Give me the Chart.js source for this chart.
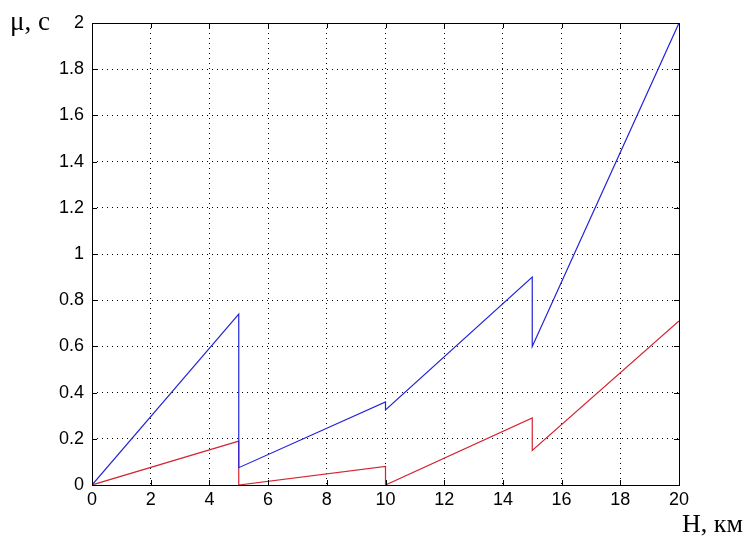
<!DOCTYPE html>
<html>
<head>
<meta charset="utf-8">
<script src="https://cdn.jsdelivr.net/npm/chart.js@4"></script>
<style>
body{margin:0;background:#fff;}
#box{position:relative;width:750px;height:536px;}
.rotulo{position:absolute;font-family:"Liberation Serif","Times New Roman",serif;color:#000;white-space:nowrap;line-height:1;}
</style>
</head>
<body>
<div id="box">
<canvas id="grafico" width="750" height="536"></canvas>
<div class="rotulo" style="left:10px;top:8px;font-size:27px;">μ, с</div>
<div class="rotulo" style="left:682px;top:511px;font-size:26px;">Н, км</div>
</div>
<script>
let alturaAzul=[0,5,5,10,10,15,15,20];
let muAzul=[0,0.74,0.075,0.36,0.325,0.90,0.60,2.0];
let alturaVermelha=[0,5,5,10,10,15,15,20];
let muVermelha=[0,0.19,0,0.08,0,0.29,0.15,0.71];
let ticksX=[0,2,4,6,8,10,12,14,16,18,20];
let ticksY=[0,0.2,0.4,0.6,0.8,1,1.2,1.4,1.6,1.8,2];

function pontos(xs,ys){
return xs.map((x,i)=>({x:x,y:ys[i]}));
}

let moldura={
id:'moldura',
afterDraw(chart){
let c=chart.ctx, a=chart.chartArea;
let sx=chart.scales.x, sy=chart.scales.y;
c.save();
c.strokeStyle='#000';
c.lineWidth=1;
c.beginPath();
ticksX.forEach(v=>{
let p=Math.round(sx.getPixelForValue(v))+0.5;
c.moveTo(p,a.bottom);c.lineTo(p,a.bottom-5);
c.moveTo(p,a.top);c.lineTo(p,a.top+5);
});
ticksY.forEach(v=>{
let p=Math.round(sy.getPixelForValue(v))+0.5;
c.moveTo(a.left,p);c.lineTo(a.left+5,p);
c.moveTo(a.right,p);c.lineTo(a.right-5,p);
});
c.stroke();
c.strokeRect(Math.round(a.left)+0.5,Math.round(a.top)+0.5,Math.round(a.right-a.left),Math.round(a.bottom-a.top));
c.restore();
}
};

let fonteTicks={family:'"Liberation Sans Narrow", "Arial Narrow", sans-serif',size:18};

new Chart(document.getElementById("grafico"),{
type:'line',
data:{
datasets:[
{data:pontos(alturaAzul,muAzul),borderColor:'#2424d8',borderWidth:1.2,pointRadius:0,tension:0},
{data:pontos(alturaVermelha,muVermelha),borderColor:'#d42430',borderWidth:1.2,pointRadius:0,tension:0}
]
},
options:{
responsive:false,
animation:false,
layout:{padding:{left:0,top:23,right:71,bottom:0}},
plugins:{legend:{display:false},tooltip:{enabled:false}},
scales:{
x:{
type:'linear',min:0,max:20,
afterBuildTicks:s=>{s.ticks=ticksX.map(v=>({value:v}));},
afterFit:s=>{s.height=51;},
grid:{color:'#000',lineWidth:1,drawTicks:false},
border:{display:false,dash:[1,4]},
ticks:{color:'#000',padding:4,font:fonteTicks,maxRotation:0}
},
y:{
type:'linear',min:0,max:2,
afterBuildTicks:s=>{s.ticks=ticksY.map(v=>({value:v}));},
afterFit:s=>{s.width=92;},
grid:{color:'#000',lineWidth:1,drawTicks:false},
border:{display:false,dash:[1,4]},
ticks:{color:'#000',padding:8,font:fonteTicks,callback:v=>String(v)}
}
}
},
plugins:[moldura]
});
</script>
</body>
</html>
